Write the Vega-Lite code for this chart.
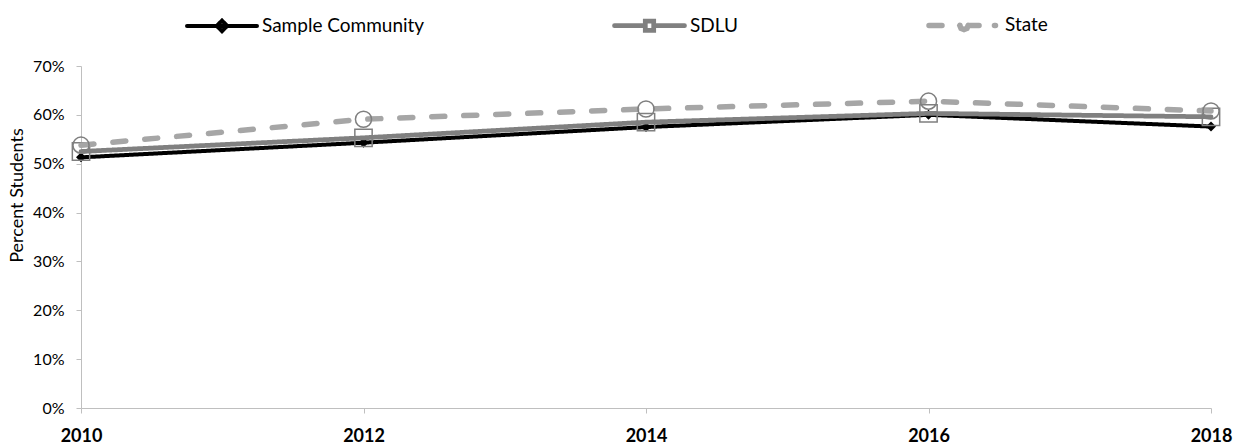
{
  "$schema": "https://vega.github.io/schema/vega-lite/v6.json",
  "width": 1130,
  "height": 342,
  "autosize": {"type": "none"},
  "padding": {"left": 81, "top": 66, "right": 24, "bottom": 40},
  "background": "white",
  "config": {
    "font": "Lato",
    "view": {"stroke": null},
    "axis": {"grid": false, "domainColor": "#bfbfbf", "tickColor": "#bfbfbf", "labelColor": "#000000", "titleColor": "#000000", "labelFont": "Lato", "titleFont": "Lato"}
  },
  "data": {
    "values": [
      {"series": "Sample Community", "year": 2010, "pct": 51.3},
      {"series": "Sample Community", "year": 2012, "pct": 54.3},
      {"series": "Sample Community", "year": 2014, "pct": 57.5},
      {"series": "Sample Community", "year": 2016, "pct": 60.0},
      {"series": "Sample Community", "year": 2018, "pct": 57.6},
      {"series": "SDLU", "year": 2010, "pct": 52.5},
      {"series": "SDLU", "year": 2012, "pct": 55.3},
      {"series": "SDLU", "year": 2014, "pct": 58.5},
      {"series": "SDLU", "year": 2016, "pct": 60.3},
      {"series": "SDLU", "year": 2018, "pct": 59.6},
      {"series": "State", "year": 2010, "pct": 53.8},
      {"series": "State", "year": 2012, "pct": 59.1},
      {"series": "State", "year": 2014, "pct": 61.2},
      {"series": "State", "year": 2016, "pct": 62.8},
      {"series": "State", "year": 2018, "pct": 60.8}
    ]
  },
  "encoding": {
    "x": {
      "field": "year", "type": "quantitative",
      "scale": {"domain": [2010, 2018], "nice": false, "zero": false},
      "axis": {"values": [2010, 2012, 2014, 2016, 2018], "format": "d", "title": null, "labelFontSize": 18, "labelFontWeight": "bold", "labelPadding": 14, "tickSize": 5, "labelFlush": false}
    },
    "y": {
      "field": "pct", "type": "quantitative",
      "scale": {"domain": [0, 70], "nice": false},
      "axis": {"values": [0, 10, 20, 30, 40, 50, 60, 70], "labelExpr": "datum.value + '%'", "title": "Percent  Students", "titleFontSize": 18, "titleFontWeight": "normal", "titleY": 129, "labelFontSize": 16, "labelPadding": 12, "tickSize": 5, "titlePadding": 6}
    }
  },
  "layer": [
    {
      "transform": [{"filter": "datum.series === 'Sample Community'"}],
      "mark": {"type": "line", "strokeCap": "round", "strokeJoin": "round"},
      "encoding": {
        "color": {"field": "series", "type": "nominal", "scale": {"domain": ["Sample Community", "SDLU", "State"], "range": ["#000000", "#808080", "#a6a6a6"]},
          "legend": {
            "orient": "none", "legendX": 104, "legendY": -79, "direction": "horizontal", "title": null,
            "labelFontSize": 19, "labelFont": "Lato", "labelColor": "#000000", "labelLimit": 0, "symbolSize": 4900, "labelOffset": 3, "columnPadding": 180,
            "encode": {"symbols": {"update": {
              "shape": {"signal": "datum.value === 'Sample Community' ? 'M-1,0L1,0M0,-0.15L0.15,0L0,0.15L-0.15,0Z' : datum.value === 'SDLU' ? 'M-1,0L-0.2,0M0.2,0L1,0M-0.12,-0.13H0.12V0.13H-0.12Z' : 'M-1,0L-0.5,0M0.12,0L0.085,0.085L0,0.12L-0.085,0.085L-0.12,0L-0.085,-0.085L0,-0.12L0.085,-0.085ZM0.12,0L0.43,0M0.87,0L0.9,0'"},
              "strokeWidth": {"signal": "datum.value === 'Sample Community' ? 4 : datum.value === 'SDLU' ? 5 : 4"},
              "strokeCap": {"value": "round"},
              "strokeDash": {"value": [1, 0]},
              "fill": {"value": "transparent"},
              "stroke": {"signal": "datum.value === 'Sample Community' ? '#000000' : datum.value === 'SDLU' ? '#808080' : '#a6a6a6'"}
            }}}
          }},
        "strokeDash": {"field": "series", "type": "nominal", "scale": {"domain": ["Sample Community", "SDLU", "State"], "range": [[1, 0], [1, 0], [13, 19]]}, "legend": null},
        "strokeWidth": {"field": "series", "type": "nominal", "scale": {"domain": ["Sample Community", "SDLU", "State"], "range": [4, 5.5, 4.5]}, "legend": null}
      }
    },
    {
      "transform": [{"filter": "datum.series === 'Sample Community'"}],
      "mark": {"type": "point", "shape": "diamond", "filled": true, "color": "#000000", "size": 100, "opacity": 1}
    },
    {
      "transform": [{"filter": "datum.series === 'SDLU'"}],
      "mark": {"type": "line", "strokeCap": "round", "strokeJoin": "round"},
      "encoding": {
        "color": {"field": "series", "type": "nominal"},
        "strokeDash": {"field": "series", "type": "nominal", "legend": null},
        "strokeWidth": {"field": "series", "type": "nominal", "legend": null}
      }
    },
    {
      "transform": [{"filter": "datum.series === 'SDLU'"}],
      "mark": {"type": "point", "shape": "square", "filled": false, "stroke": "#7f7f7f", "strokeWidth": 1.5, "size": 300, "opacity": 1}
    },
    {
      "transform": [{"filter": "datum.series === 'State'"}],
      "mark": {"type": "line", "strokeCap": "round", "strokeJoin": "round"},
      "encoding": {
        "color": {"field": "series", "type": "nominal"},
        "strokeDash": {"field": "series", "type": "nominal", "legend": null},
        "strokeWidth": {"field": "series", "type": "nominal", "legend": null}
      }
    },
    {
      "transform": [{"filter": "datum.series === 'State'"}],
      "mark": {"type": "point", "shape": "circle", "filled": false, "stroke": "#7f7f7f", "strokeWidth": 1.5, "size": 260, "opacity": 1}
    }
  ]
}
